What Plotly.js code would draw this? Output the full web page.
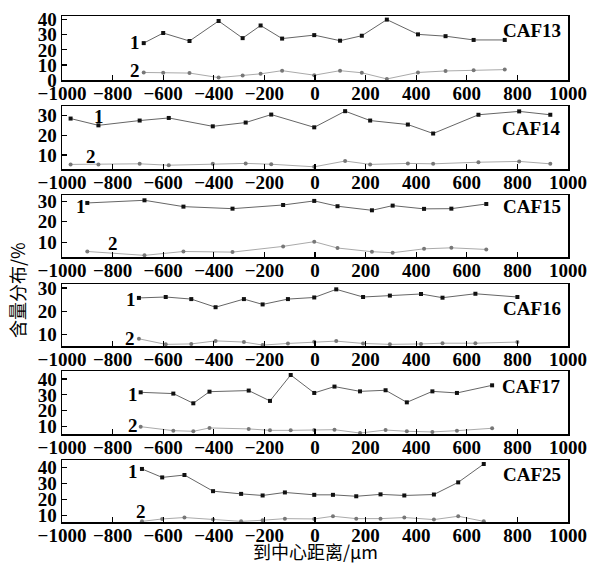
<!DOCTYPE html>
<html>
<head>
<meta charset="utf-8">
<script src="https://cdn.plot.ly/plotly-3.0.1.min.js"></script>
<style>html,body{margin:0;padding:0;background:#fff;}#chart{width:589px;height:565px;}</style>
</head>
<body>
<div id="chart"></div>
<script>
// ---- data (distance from center in µm, content in %) ----
const sampleNames = ["CAF13", "CAF14", "CAF15", "CAF16", "CAF17", "CAF25"];

const caf13X  = [-677, -600, -496, -381, -286, -215, -130, -3, 99, 185, 284, 407, 516, 627, 750];
const caf13S1 = [24.5, 31.2, 25.9, 39.2, 27.8, 36.2, 27.5, 29.8, 26.1, 29.4, 40.1, 30.3, 29.1, 26.6, 26.6];
const caf13S2 = [5.0, 4.8, 4.6, 1.6, 3.0, 4.1, 6.2, 3.2, 6.2, 4.8, 0.7, 5.0, 6.0, 6.4, 6.9];

const caf14X  = [-966, -856, -693, -578, -404, -274, -173, -3, 119, 218, 367, 467, 646, 807, 930];
const caf14S1 = [28.3, 24.9, 27.3, 28.6, 24.4, 26.3, 30.3, 23.9, 32.0, 27.3, 25.3, 20.8, 30.2, 31.9, 30.2];
const caf14S2 = [5.3, 5.3, 5.6, 4.9, 5.6, 5.8, 5.4, 4.1, 7.0, 5.3, 5.8, 5.6, 6.4, 6.8, 5.6];

const caf15X  = [-900, -674, -520, -326, -126, -3, 89, 225, 307, 431, 539, 677];
const caf15S1 = [29.2, 30.5, 27.4, 26.4, 28.2, 30.2, 27.6, 25.6, 27.9, 26.3, 26.4, 28.7];
const caf15S2 = [5.4, 3.5, 5.4, 5.1, 7.9, 10.2, 7.1, 5.3, 4.8, 6.7, 7.2, 6.4];

const caf16X  = [-696, -590, -489, -393, -281, -207, -107, -3, 84, 190, 296, 419, 504, 634, 800];
const caf16S1 = [25.7, 26.1, 25.2, 21.7, 25.2, 22.9, 25.2, 25.9, 29.4, 26.1, 26.7, 27.4, 25.8, 27.5, 26.1];
const caf16S2 = [8.1, 5.7, 5.9, 7.2, 6.7, 5.4, 6.1, 6.8, 7.1, 6.1, 5.7, 5.9, 6.2, 6.2, 6.7];

const caf17X  = [-689, -560, -481, -417, -262, -178, -96, -3, 77, 178, 279, 363, 464, 561, 700];
const caf17S1 = [31.6, 30.8, 24.7, 32.0, 32.7, 26.2, 42.5, 31.2, 35.2, 32.2, 32.9, 25.3, 32.2, 31.2, 36.0];
const caf17S2 = [10.0, 7.5, 7.1, 9.2, 8.6, 7.7, 7.7, 7.9, 8.1, 6.0, 7.9, 7.1, 6.7, 7.5, 9.0];

const caf25X  = [-684, -604, -516, -403, -292, -207, -119, -3, 71, 163, 259, 353, 470, 566, 667];
const caf25S1 = [39.0, 33.7, 35.2, 25.1, 23.4, 22.4, 24.3, 22.8, 22.8, 21.9, 23.1, 22.4, 23.0, 30.6, 42.1];
const caf25S2 = [6.2, 7.7, 8.6, 7.3, 6.2, 6.9, 7.9, 7.7, 9.4, 7.9, 7.9, 8.6, 7.3, 9.4, 6.2];

const xTickVals = [-1000, -800, -600, -400, -200, 0, 200, 400, 600, 800, 1000];
const xLabel = "到中心距离/μm";
const yLabel = "含量分布/%";

// ---- layout helpers ----
const panels = [
  {x: caf13X, s1: caf13S1, s2: caf13S2},
  {x: caf14X, s1: caf14S1, s2: caf14S2},
  {x: caf15X, s1: caf15S1, s2: caf15S2},
  {x: caf16X, s1: caf16S1, s2: caf16S2},
  {x: caf17X, s1: caf17S1, s2: caf17S2},
  {x: caf25X, s1: caf25S1, s2: caf25S2}
];
const W = 589, H = 565, mT = 16, mB = 43;
const plotH = H - mT - mB;
const boxes = [[16, 80], [106, 169], [195, 257], [284, 346], [371, 434], [460, 522]];
const yRanges = [[0, 42.5], [3, 34.6], [2.7, 33.1], [5.0, 31.7], [5.4, 45.0], [5.8, 44.6]];
const nameYFrac = [0.78, 0.65, 0.81, 0.61, 0.76, 0.76];
const lab1 = [[-711, 25.2], [-852, 29.5], [-926, 27.6], [-726, 24.9], [-719, 30.5], [-719, 37.3]];
const lab2 = [[-711, 6.4], [-886, 9.2], [-800, 9.2], [-733, 8.3], [-719, 10.5], [-689, 12.5]];

const serif = "Liberation Serif, Times New Roman, serif";
const tf = {family: serif, size: 19, color: "#000", weight: "bold"};
const traces = [];
const layout = {
  width: W, height: H,
  margin: {l: 62, r: 21, t: mT, b: mB},
  paper_bgcolor: "#fff", plot_bgcolor: "#fff",
  showlegend: false,
  font: {family: serif, size: 19, color: "#000"},
  annotations: []
};

panels.forEach((p, i) => {
  const k = i === 0 ? "" : String(i + 1);
  const xa = "x" + k, ya = "y" + k;
  traces.push({
    x: p.x, y: p.s1, xaxis: xa, yaxis: ya, type: "scatter", mode: "lines+markers",
    line: {color: "#666", width: 1}, marker: {symbol: "square", size: 4, color: "#111"},
    cliponaxis: false
  });
  traces.push({
    x: p.x, y: p.s2, xaxis: xa, yaxis: ya, type: "scatter", mode: "lines+markers",
    line: {color: "#aaa", width: 1}, marker: {symbol: "circle", size: 4, color: "#777"},
    cliponaxis: false
  });
  const [top, bot] = boxes[i];
  const d = [(H - mB - bot) / plotH, (H - mB - top) / plotH];
  layout["xaxis" + k] = {
    domain: [0, 1], anchor: ya, range: [-1000, 1000],
    tickvals: xTickVals, ticks: "inside", ticklen: 5, tickwidth: 1.2, tickcolor: "#000",
    ticklabelstandoff: -4,
    showline: true, mirror: true, linecolor: "#000", linewidth: 1.5,
    showgrid: false, zeroline: false, tickfont: tf
  };
  layout["yaxis" + k] = {
    domain: d, anchor: xa, range: yRanges[i], dtick: 10, tick0: 0,
    ticks: "inside", ticklen: 5, tickwidth: 1.2, tickcolor: "#000",
    showline: true, mirror: true, linecolor: "#000", linewidth: 1.5,
    showgrid: false, zeroline: false, tickfont: tf
  };
  layout.annotations.push({
    text: sampleNames[i], xref: xa + " domain", yref: ya + " domain",
    x: 0.99, y: nameYFrac[i], xanchor: "right", yanchor: "middle", showarrow: false,
    font: tf
  });
  layout.annotations.push({
    text: "1", xref: xa, yref: ya, x: lab1[i][0], y: lab1[i][1],
    xanchor: "center", yanchor: "middle", showarrow: false, font: tf
  });
  layout.annotations.push({
    text: "2", xref: xa, yref: ya, x: lab2[i][0], y: lab2[i][1],
    xanchor: "center", yanchor: "middle", showarrow: false, font: tf
  });
});

const cjk = {family: "Noto Sans CJK SC, " + serif, size: 18, color: "#000", weight: "normal"};
layout.annotations.push({
  text: xLabel, xref: "paper", yref: "paper", x: 0.5, y: 0,
  yshift: -(551 - (H - mB)), xanchor: "center", yanchor: "middle",
  showarrow: false, borderpad: 0, font: cjk
});
layout.annotations.push({
  text: yLabel, xref: "paper", yref: "paper", x: (17 - 62) / (W - 62 - 21), y: (H - mB - 290) / plotH,
  xanchor: "center", yanchor: "middle", textangle: -90, showarrow: false, borderpad: 0, font: cjk
});

Plotly.newPlot("chart", traces, layout, {displayModeBar: false, staticPlot: true});
</script>
</body>
</html>
